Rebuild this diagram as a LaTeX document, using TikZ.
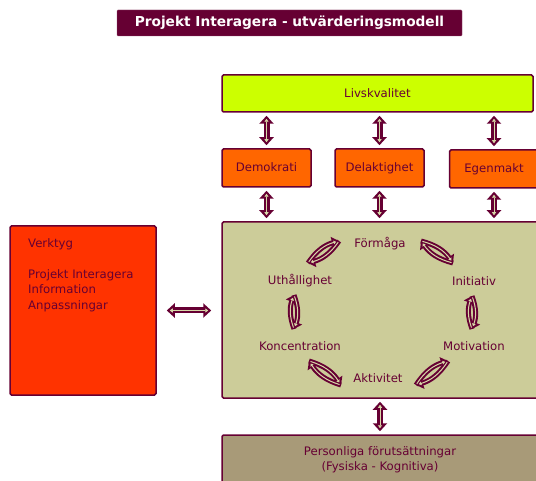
\documentclass[tikz,border=0pt]{standalone}
\usepackage{fontspec}
\setmainfont{DejaVu Sans}
\usepackage{xcolor}
\usepackage{tikz}
\usetikzlibrary{arrows.meta}
\definecolor{wine}{HTML}{660033}
\definecolor{livsgreen}{HTML}{CCFF00}
\definecolor{demoorange}{HTML}{FF6600}
\definecolor{toolred}{HTML}{FF3300}
\definecolor{corekhaki}{HTML}{CCCC99}
\definecolor{perstan}{HTML}{A89A78}
\definecolor{straw}{HTML}{D8D8A8}

\begin{document}
\begin{tikzpicture}[x=1pt,y=-1pt,
    panel/.style={draw=wine, line width=1.5pt, rounded corners=1.5pt, text=wine, font=\fontsize{11.7}{15}\selectfont},
    box/.style={panel, text height=1.6ex, text depth=.3ex},
    lbl/.style={text=wine, font=\fontsize{11.7}{14}\selectfont},
    fatouter/.style={draw=wine, line width=6pt, {Triangle[length=8pt,width=14pt]}-{Triangle[length=8pt,width=14pt]}, shorten <=#1, shorten >=#1},
    fatouter/.default=3pt,
    fatinner/.style={draw=straw, line width=1pt, {Triangle[length=3pt,width=4pt]}-{Triangle[length=3pt,width=4pt]}, shorten <=#1+3pt, shorten >=#1+3pt},
    fatinner/.default=3pt,
    swirlouter/.style={draw=wine, line width=5pt, -{Triangle[length=7pt,width=12pt]}},
    swirlinner/.style={draw=straw, line width=1pt, -{Triangle[length=2.5pt,width=3.5pt]}, shorten >=3pt, shorten <=1.5pt}]
    \path[use as bounding box, fill=white] (0,0) rectangle (536,481);

    \node[fill=wine, draw=wine!70, rounded corners=1pt, text=white, font=\bfseries\fontsize{13.7}{16}\selectfont,
        minimum width=345, minimum height=26] (title) at (289.5,23) {Projekt Interagera - utvärderingsmodell};

    \node[box, fill=livsgreen, minimum width=311, minimum height=37] (livs) at (377.5,93.5) {Livskvalitet};
    \node[box, fill=demoorange, minimum width=89, minimum height=38] (demo) at (266.5,168) {Demokrati};
    \node[box, fill=demoorange, minimum width=89, minimum height=38] (dela) at (379.5,168) {Delaktighet};
    \node[box, fill=demoorange, minimum width=89, minimum height=38] (egen) at (494,169) {Egenmakt};
    \node[panel, fill=corekhaki, minimum width=316, minimum height=176] (core) at (380,310) {};
    \node[panel, fill=toolred, minimum width=146, minimum height=169] (tools) at (83,310.5) {};
    \node[lbl, anchor=north west, align=left, inner sep=0pt, font=\fontsize{11.7}{15.5}\selectfont] (toolstext) at (28,238)
        {Verktyg\\[15.5pt]Projekt Interagera\\Information\\Anpassningar};
    \node[panel, fill=perstan, minimum width=316, minimum height=50, align=center] (pers) at (380,460)
        {Personliga förutsättningar\\(Fysiska - Kognitiva)};

    \node[lbl] (form) at (380,244) {Förmåga};
    \node[lbl] (init) at (474,281) {Initiativ};
    \node[lbl] (motiv) at (474,346) {Motivation};
    \node[lbl] (aktiv) at (378,378) {Aktivitet};
    \node[lbl] (konc) at (300,346) {Koncentration};
    \node[lbl] (uth) at (300,281) {Uthållighet};

    \foreach \s in {fatouter,fatinner} {
        \foreach \n in {demo,dela,egen} {
            \draw[\s] (\n.north |- livs.south) -- (\n.north);
            \draw[\s] (\n.south) -- (\n.south |- core.north);
        }
        \draw[\s] (core.south) -- (pers.north);
        \draw[\s=10pt] (tools.east) -- (tools.east -| core.west);
    }

    \coordinate (s1a) at (308,263); \coordinate (s1b) at (339,241);
    \coordinate (s2a) at (421,241); \coordinate (s2b) at (453,263);
    \coordinate (s3a) at (472,296); \coordinate (s3b) at (472,329);
    \coordinate (s4a) at (448,361); \coordinate (s4b) at (416,385);
    \coordinate (s5a) at (341,385); \coordinate (s5b) at (309,361);
    \coordinate (s6a) at (294,329); \coordinate (s6b) at (294,295);
    \foreach \s in {swirlouter,swirlinner} {
        \foreach \a/\b in {s1a/s1b,s2a/s2b,s3a/s3b,s4a/s4b,s5a/s5b,s6a/s6b} {
            \draw[\s] (\a) to[bend left=20] (\b);
            \draw[\s] (\b) to[bend left=20] (\a);
        }
    }
\end{tikzpicture}
\end{document}
